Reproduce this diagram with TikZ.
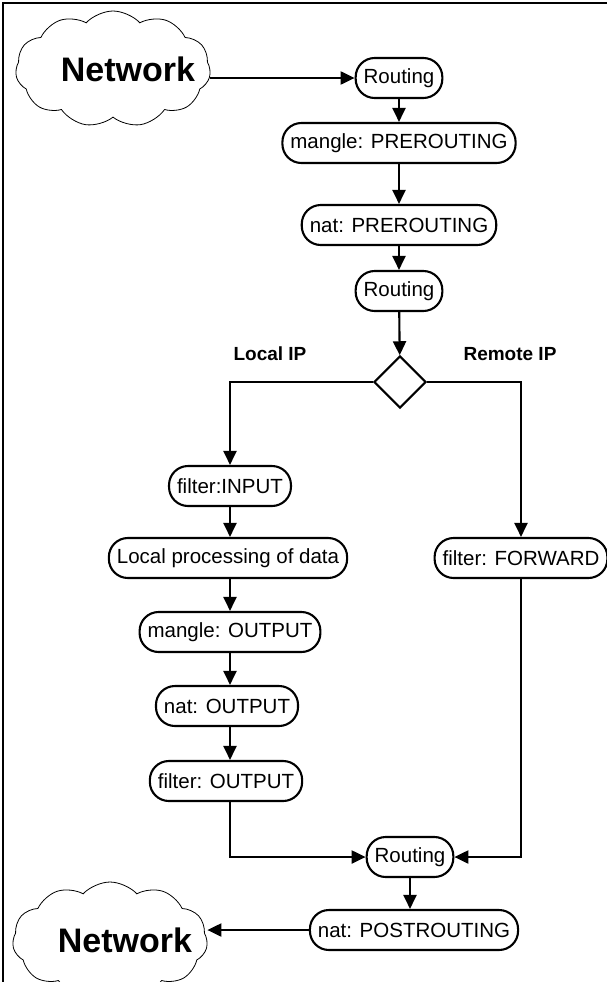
\documentclass[tikz,border=0pt]{standalone}
\usepackage{fontspec}
\setmainfont{Liberation Sans}
\usetikzlibrary{arrows.meta,shapes.geometric,shapes.symbols}

\begin{document}
\begin{tikzpicture}[x=1pt,y=-1pt,
  stage/.style={draw,line width=2.1pt,rounded corners=19pt,minimum height=40pt,
    inner xsep=8pt,font=\fontsize{20.5}{23}\selectfont},
  decision/.style={draw,diamond,line width=2.1pt,minimum width=52pt,minimum height=52pt,inner sep=0pt},
  net/.style={draw,cloud,cloud puffs=11,cloud puff arc=95,cloud ignores aspect,line width=0.8pt,
    minimum width=195pt,minimum height=116pt,inner sep=0pt,font=\bfseries\fontsize{34}{38}\selectfont},
  branch/.style={font=\bfseries\fontsize{19}{22}\selectfont},
  arr/.style={line width=2.1pt,-{Triangle[length=14pt,width=13pt]}}]

\useasboundingbox (0,0) rectangle (607,982);
% frame on the left and top
\draw[line width=2.6pt] (3,982) -- (3,3) -- (607,3);

% incoming network (label kept zero-width so the cloud keeps its own size)
\node[net] (net1) at (113,69) {\makebox[0pt]{\hspace*{30pt}Network}};

% common path
\node[stage] (r1) at (399,78) {Routing};
\node[stage] (m1) at (399,143) {mangle: PREROUTING};
\node[stage] (n1) at (399,225) {nat: PREROUTING};
\node[stage] (r2) at (399,291) {Routing};
\node[decision] (dia) at (400,382) {};
\node[branch] (lip) at (270,354) {Local IP};
\node[branch] (rip) at (510,354) {Remote IP};

% local branch
\node[stage] (fin) at (230,486) {filter:INPUT};
\node[stage] (loc) at (228,558) {Local processing of data};
\node[stage] (mout) at (230,632) {mangle: OUTPUT};
\node[stage] (nout) at (227,706) {nat: OUTPUT};
\node[stage] (fout) at (226,781) {filter: OUTPUT};

% forwarded branch
\node[stage] (ffw) at (521,558) {filter: FORWARD};

% outgoing path
\node[stage] (r3) at (410,857) {Routing};
\node[stage] (post) at (414,930) {nat: POSTROUTING};
\node[net] (net2) at (110,940) {\makebox[0pt]{\hspace*{30pt}Network}};

% connectors
\draw[arr] (r1.west -| net1.east) -- (r1.west);
\draw[arr] (r1) -- (m1);
\draw[arr] (m1) -- (n1);
\draw[arr] (n1) -- (r2);
\draw[arr] (r2) -- (dia);
\draw[arr] (dia.west) -| (fin.north);
\draw[arr] (dia.east) -| (ffw.north);
\draw[arr] (fin.south) -- (fin.south |- loc.north);
\draw[arr] (fin.south |- loc.south) -- (fin.south |- mout.north);
\draw[arr] (fin.south |- mout.south) -- (fin.south |- nout.north);
\draw[arr] (fin.south |- nout.south) -- (fin.south |- fout.north);
\draw[arr] (fin.south |- fout.south) |- (r3.west);
\draw[arr] (ffw.south) |- (r3.east);
\draw[arr] (post.north -| r3.south) ++(0,-33) -- (post.north -| r3.south);
\draw[arr] (post.west) -- (post.west -| net2.east);
\end{tikzpicture}
\end{document}
